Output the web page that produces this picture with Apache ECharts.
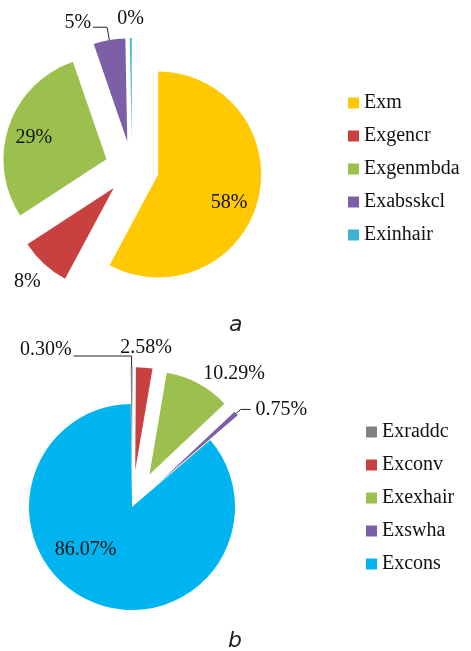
<!DOCTYPE html>
<html>
<head>
<meta charset="utf-8">
<script src="https://cdn.jsdelivr.net/npm/echarts@6/dist/echarts.min.js"></script>
<style>
html,body{margin:0;padding:0;background:#fff;}
#c{width:471px;height:651px;}
</style>
</head>
<body>
<div id="c"></div>
<script>
// ---- data ----
const catsA = ['Exm', 'Exgencr', 'Exgenmbda', 'Exabsskcl', 'Exinhair'];
const valsA = [58, 8, 29, 5, 0.3];
const catsB = ['Exraddc', 'Exconv', 'Exexhair', 'Exswha', 'Excons'];
const valsB = [0.30, 2.58, 10.29, 0.75, 86.07];
const captions = ['a', 'b'];

// ---- styles ----
const colorsA = ['#FFC800', '#C94040', '#9CC04D', '#7D5FA8', '#3DB3D0'];
const colorsB = ['#808080', '#C94040', '#9CC04D', '#7D5FA8', '#00B4F0'];
const explodeB = [true, true, true, true, false];

const labStyleA = [
  {pos: 'inside', dx: 18, dy: 15},
  {pos: 'outside', line: false, len: 25, len2: 0, dist: 0, align: 'center'},
  {pos: 'inside', dx: -21, dy: -4},
  {pos: 'outside', line: true, len: 13, len2: 14, dist: 2, dy: -4},
  {pos: 'outside', line: false, len: 19, len2: 0, dist: 0, align: 'center'}
];
const labStyleB = [
  {pos: 'outside', line: true, len: 11, len2: 58, dist: 2, dy: -6},
  {pos: 'outside', line: false, len: 20, len2: 0, dist: 0, align: 'center'},
  {pos: 'outside', line: false, len: 11, len2: 0, dist: 0},
  {pos: 'outside', line: true, len: 6, len2: 10, dist: 5},
  {pos: 'inside', dx: -24, dy: -7}
];

const serif = '"Liberation Serif", "Times New Roman", serif';
const labelFont = {fontFamily: serif, fontSize: 20, color: '#111'};
const legendText = {
  fontFamily: serif, fontSize: 20, lineHeight: 20, color: '#111',
  rich: {t: {fontFamily: serif, fontSize: 20, lineHeight: 20, color: '#111'}}
};

function buildData(cats, vals, colors, styles, explode) {
  return cats.map(function (name, i) {
    const s = styles[i];
    return {
      name: name,
      value: vals[i],
      selected: explode ? explode[i] : true,
      itemStyle: {color: colors[i]},
      label: {position: s.pos, distanceToLabelLine: s.dist != null ? s.dist : 5},
      labelLine: {show: !!s.line, length: s.len || 0, length2: s.len2 || 0}
    };
  });
}
function layoutFn(styles) {
  return function (p) {
    const s = styles[p.dataIndex];
    const o = {};
    if (s.dx) o.dx = s.dx;
    if (s.dy) o.dy = s.dy;
    if (s.align) o.align = s.align;
    return o;
  };
}

const chart = echarts.init(document.getElementById('c'), null, {renderer: 'canvas'});
const pieBase = {
  type: 'pie',
  radius: 103,
  selectedMode: 'multiple',
  avoidLabelOverlap: false,
  clockwise: true,
  animation: false,
  emphasis: {disabled: true},
  itemStyle: {borderWidth: 0},
  labelLine: {smooth: false, lineStyle: {color: '#222', width: 1}}
};
const legendBase = {
  orient: 'vertical', padding: 0,
  itemWidth: 11, itemHeight: 11, itemGap: 13, icon: 'rect', selectedMode: false,
  formatter: '{t|{name}}',
  textStyle: legendText
};

chart.setOption({
  animation: false,
  textStyle: {fontFamily: serif},
  legend: [
    Object.assign({}, legendBase, {data: catsA, left: 348, top: 93}),
    Object.assign({}, legendBase, {data: catsB, left: 366, top: 422})
  ],
  graphic: [
    {type: 'text', left: 229, top: 314, style: {text: captions[0], font: 'italic 22px "DejaVu Sans"', fill: '#222'}},
    {type: 'text', left: 228, top: 630, style: {text: captions[1], font: 'italic 22px "DejaVu Sans"', fill: '#222'}}
  ],
  series: [
    Object.assign({}, pieBase, {
      name: 'a',
      center: [132, 168],
      startAngle: 90,
      selectedOffset: 27,
      label: Object.assign({show: true, overflow: 'none', formatter: function (p) { return Math.round(p.value) + '%'; }}, labelFont),
      labelLayout: layoutFn(labStyleA),
      data: buildData(catsA, valsA, colorsA, labStyleA, null)
    }),
    Object.assign({}, pieBase, {
      name: 'b',
      center: [132, 507],
      startAngle: 90.7,
      selectedOffset: 37,
      label: Object.assign({show: true, overflow: 'none', formatter: function (p) { return p.value.toFixed(2) + '%'; }}, labelFont),
      labelLayout: layoutFn(labStyleB),
      data: buildData(catsB, valsB, colorsB, labStyleB, explodeB)
    })
  ]
});
</script>
</body>
</html>
